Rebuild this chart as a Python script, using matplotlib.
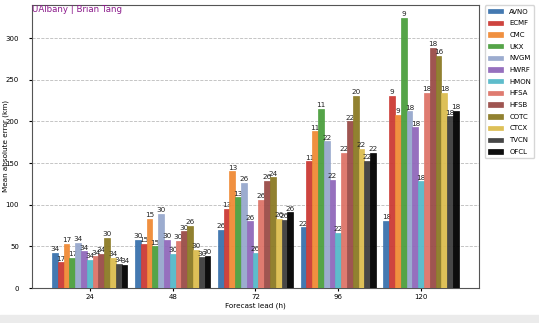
import numpy as np
import matplotlib
matplotlib.use("Agg")
import matplotlib.pyplot as plt
from matplotlib.patches import Rectangle

#--------------- Style ---------------------
plt.rcParams['font.size'] = 5
plt.rcParams['xtick.labelsize'] = 5
plt.rcParams['ytick.labelsize'] = 5
plt.rcParams['axes.labelsize'] = 5.2

#--------------- Data ----------------------
leads = ["24", "48", "72", "96", "120"]
models = ["AVNO", "ECMF", "CMC", "UKX", "NVGM", "HWRF", "HMON",
          "HFSA", "HFSB", "COTC", "CTCX", "TVCN", "OFCL"]
colors = ["#3a72ad", "#cc3a34", "#f08a35", "#4c9f3e", "#97a8cd", "#9168bb", "#55b9c9",
          "#de7468", "#9a4c48", "#8b7a25", "#dcbd4f", "#3d3d3d", "#000000"]

mae = {
    "AVNO": [42, 58, 70, 73, 81],
    "ECMF": [31, 53, 95, 152, 231],
    "CMC":  [53, 83, 140, 188, 208],
    "UKX":  [36, 50, 109, 215, 324],
    "NVGM": [54, 89, 126, 176, 212],
    "HWRF": [44, 58, 80, 130, 193],
    "HMON": [34, 41, 42, 66, 128],
    "HFSA": [38, 57, 106, 162, 234],
    "HFSB": [41, 68, 129, 200, 288],
    "COTC": [60, 75, 133, 231, 279],
    "CTCX": [36, 46, 83, 167, 234],
    "TVCN": [29, 37, 82, 153, 206],
    "OFCL": [28, 39, 91, 162, 213],
}
counts = {
    "AVNO": [34, 30, 26, 22, 18],
    "ECMF": [17, 15, 13, 11, 9],
    "CMC":  [17, 15, 13, 11, 9],
    "UKX":  [17, 15, 13, 11, 9],
    "NVGM": [34, 30, 26, 22, 18],
    "HWRF": [34, 30, 26, 22, 18],
    "HMON": [34, 30, 26, 22, 18],
    "HFSA": [34, 30, 26, 22, 18],
    "HFSB": [34, 30, 26, 22, 18],
    "COTC": [30, 26, 24, 20, 16],
    "CTCX": [34, 30, 26, 22, 18],
    "TVCN": [34, 30, 26, 22, 18],
    "OFCL": [34, 30, 26, 22, 18],
}

#---------------- Graph ------------------
fig = plt.figure(figsize=(5.39, 3.23), dpi=100)
ax = fig.add_axes([0.059, 0.108, 0.830, 0.877])
fig.patches.append(Rectangle((0, 0), 1, 8 / 323, transform=fig.transFigure,
                             color="#ebebeb", zorder=-1))

x = np.arange(len(leads))
w = 0.07
for i, m in enumerate(models):
    pos = x + (i - (len(models) - 1) / 2) * w
    bars = ax.bar(pos, mae[m], w, color=colors[i], edgecolor=colors[i],
                  linewidth=0.5, alpha=0.95, label=m, zorder=3)
    ax.bar_label(bars, labels=[str(c) for c in counts[m]], padding=0.5, fontsize=5.2,
                 color="#222222")

ax.set_xticks(x)
ax.set_xticklabels(leads)
ax.set_xlim(-0.7, 4.7)
ax.set_ylim(0, 340)
ax.set_yticks(np.arange(0, 301, 50))
ax.tick_params(axis="x", length=2.2, pad=2)
ax.tick_params(axis="y", length=2.2, pad=7)
ax.yaxis.grid(True, linestyle="--", color="#bbbbbb", linewidth=0.6)
ax.set_axisbelow(True)
ax.set_xlabel("Forecast lead (h)", labelpad=2)
ax.set_ylabel("Mean absolute error (km)")
ax.yaxis.set_label_coords(-0.052, 0.5)
for s in ax.spines.values():
    s.set_color("#555555")

ax.text(0.0, 0.998, "UAlbany | Brian Tang", transform=ax.transAxes, ha="left",
        va="top", color="#8b1a8b", fontsize=6.2)

ax.legend(loc="upper left", bbox_to_anchor=(1.013, 0.998), fontsize=5,
          handlelength=2.2, handleheight=0.6, handletextpad=0.85,
          labelspacing=0.82, borderaxespad=0, borderpad=0.45,
          frameon=True, fancybox=True)

fig.savefig("out.png", dpi=100)
